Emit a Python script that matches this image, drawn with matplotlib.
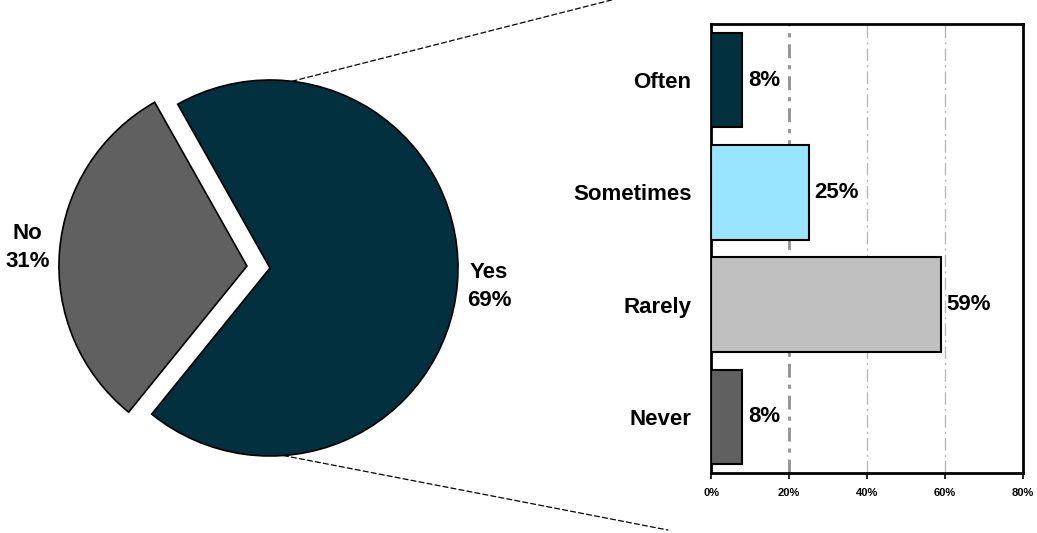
import numpy as np
import matplotlib.pyplot as plt
from matplotlib.patches import ConnectionPatch

plt.rcParams['font.family'] = ['Liberation Sans', 'DejaVu Sans']
plt.rcParams['font.weight'] = 'bold'

# pie: share answering yes/no
pie_labels = ['Yes', 'No']
pie_values = [69, 31]
pie_colors = ['#03303f', '#606060']

# bar: how often, among the "yes" group
freq_labels = ['Often', 'Sometimes', 'Rarely', 'Never']
freq_values = [8, 25, 59, 8]
freq_colors = ['#03303f', '#99e5ff', '#c0c0c0', '#606060']
xticks = [0, 20, 40, 60, 80]
xtick_labels = ['0%', '20%', '40%', '60%', '80%']

W, H = 1037, 533
fig = plt.figure(figsize=(W / 100, H / 100), dpi=100)

# ---- pie ----
R = 188.0
cx, cy = 270, H - 268
half = 250
ax1 = fig.add_axes([(cx - half) / W, (cy - half) / H, 2 * half / W, 2 * half / H])
wedges, _ = ax1.pie(pie_values, colors=pie_colors, startangle=-129, radius=1,
                    explode=[0, 0.123], counterclock=True,
                    wedgeprops=dict(edgecolor='black', linewidth=1.2))
lim = half / R
ax1.set_xlim(-lim, lim)
ax1.set_ylim(-lim, lim)
ax1.set_aspect('equal')
ax1.axis('off')

for w, lab, val in zip(wedges, pie_labels, pie_values):
    mid = np.deg2rad((w.theta1 + w.theta2) / 2)
    x0, y0 = w.center
    ax1.text(x0 + 1.17 * np.cos(mid), y0 + 1.17 * np.sin(mid),
             f'{lab}\n{val}%', ha='center', va='center', fontsize=16,
             fontweight='bold', linespacing=1.4)

# ---- bars ----
ax2 = fig.add_axes([711 / W, 60 / H, 312 / W, 449 / H])
y = np.arange(len(freq_labels))
bars = ax2.barh(y, freq_values, height=0.84, color=freq_colors,
                edgecolor='black', linewidth=1.5, zorder=3)
ax2.set_ylim(len(freq_labels) - 0.5, -0.5)
ax2.set_xlim(0, 80)
ax2.set_yticks(y)
ax2.set_yticklabels(freq_labels, fontsize=16, fontweight='bold')
ax2.tick_params(axis='y', length=0, pad=14)
ax2.set_xticks(xticks)
ax2.set_xticklabels(xtick_labels, fontsize=8, fontweight='bold')
ax2.tick_params(axis='x', length=4, width=1.2, pad=7, direction='out')
for s in ax2.spines.values():
    s.set_linewidth(2)
ax2.bar_label(bars, labels=[f'{v}%' for v in freq_values], padding=4,
              fontsize=16, fontweight='bold')

for t in xticks[1:-1]:
    if t == 20:
        ax2.axvline(t, color='#909090', lw=2, ls=(0, (5, 2.5, 1.5, 2.5)), zorder=1)
    else:
        ax2.axvline(t, color='#b8b8b8', lw=1, ls=(0, (9, 3, 1.5, 3)), zorder=1)

# ---- dashed connectors from the Yes slice to the bar panel ----
for ang, xyB in [(83.3, (-0.282, 1.06)), (-85.9, (-0.138, -0.127))]:
    a = np.deg2rad(ang)
    con = ConnectionPatch(xyA=(np.cos(a), np.sin(a)), coordsA=ax1.transData,
                          xyB=xyB, coordsB=ax2.transAxes,
                          color='black', lw=0.9, ls=(0, (4, 2.5)))
    fig.add_artist(con)

fig.savefig('out.png', dpi=100)
